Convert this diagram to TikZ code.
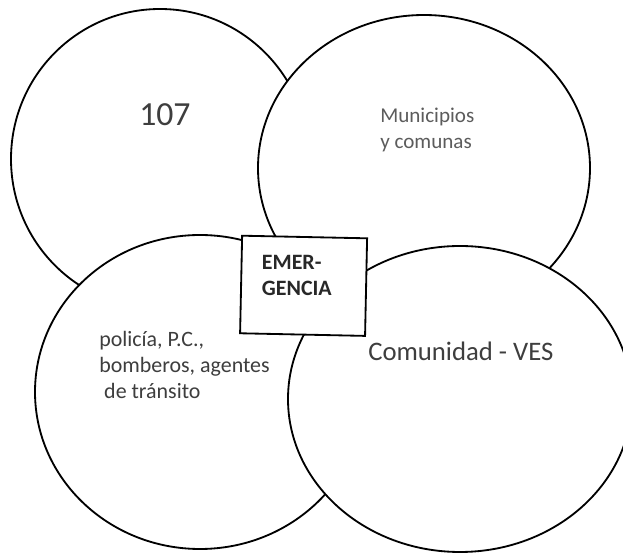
\documentclass[tikz,border=0pt]{standalone}
\usepackage{fontspec}
\setmainfont{Carlito}
\usepackage{xcolor}
\definecolor{text_gray}{RGB}{62,62,62}
\definecolor{light_gray}{RGB}{92,92,92}
\definecolor{dark_gray}{RGB}{40,40,40}
\usepackage{tikz}
\usetikzlibrary{shapes.geometric}

\begin{document}
\begin{tikzpicture}[
  zone/.style={ellipse, draw=black, fill=white, line width=1.3pt, inner sep=0pt},
  caption/.style={anchor=base west, align=left, inner sep=0pt}
]
\useasboundingbox (0,0) rectangle (15.575,13.85);

\node[zone, minimum width=7.45cm, minimum height=7.5cm] (num) at (4.0, 9.875) {};
\node[zone, minimum width=8.3cm, minimum height=7.65cm] (muni) at (10.6, 9.65) {};
\node[zone, minimum width=8.25cm, minimum height=7.85cm] (resc) at (5.0, 4.05) {};
\node[zone, minimum width=8.6cm, minimum height=7.65cm] (comu) at (11.5, 3.875) {};

\node[draw=black, fill=white, line width=1.3pt, rotate=-1.2, inner sep=0pt,
  minimum width=3.125cm, minimum height=2.44cm] (emer) at (7.59, 6.705) {};

\node[caption, font=\fontsize{24}{29}\selectfont, text=text_gray] (numtext) at (3.475, 10.7) {107};
\node[caption, font=\fontsize{15}{19.2}\selectfont, text=light_gray] (munitext) at (9.5, 10.125) {Municipios\\y comunas};
\node[caption, font=\fontsize{15.6}{18.5}\selectfont, text=text_gray] (resctext) at (2.475, 3.875) {policía, P.C.,\\bomberos, agentes\\\ de tránsito};
\node[caption, font=\fontsize{19}{23}\selectfont, text=text_gray] (comutext) at (9.2, 4.825) {Comunidad - VES};
\node[caption, font=\fontsize{15.6}{19.2}\selectfont\bfseries, text=dark_gray] (emertext) at (6.54, 6.45) {EMER-\\GENCIA};

\end{tikzpicture}
\end{document}
